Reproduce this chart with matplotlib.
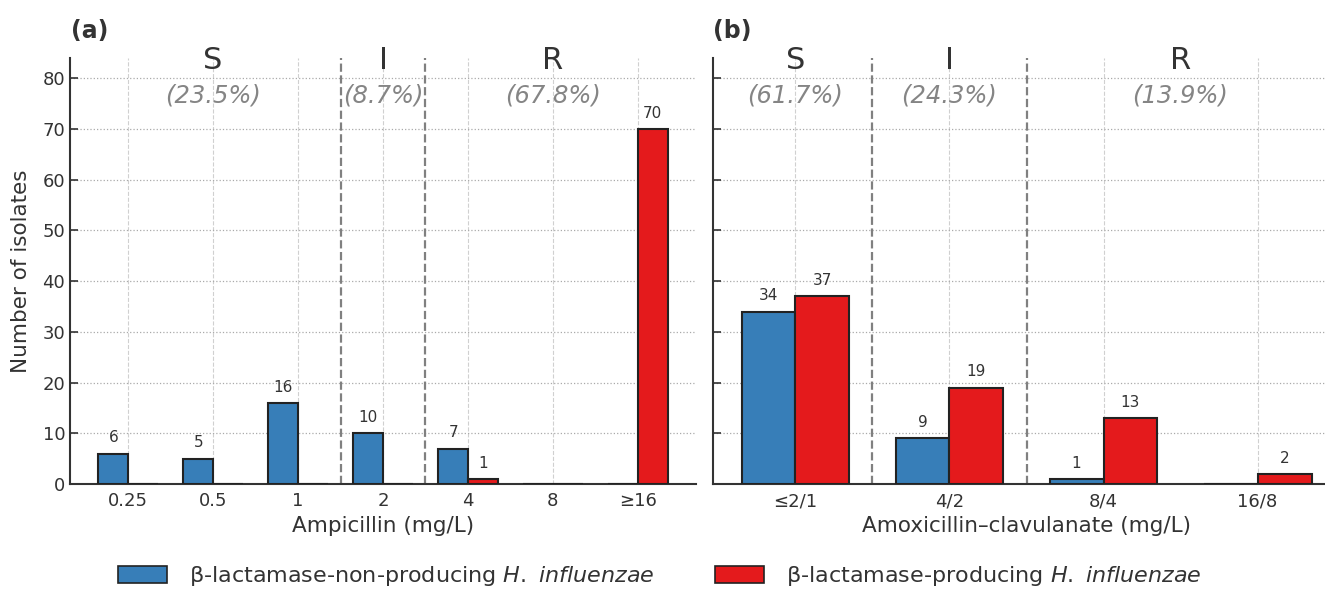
import matplotlib
matplotlib.use('Agg')
import matplotlib.pyplot as plt
import numpy as np
from matplotlib.patches import Patch

# ampicillin MIC distribution
amp_labels = ['0.25', '0.5', '1', '2', '4', '8', '≥16']
amp_non = [6, 5, 16, 10, 7, 0, 0]
amp_prod = [0, 0, 0, 0, 1, 0, 70]
amp_cats = ['S', 'I', 'R']
amp_pct = ['(23.5%)', '(8.7%)', '(67.8%)']

# amoxicillin-clavulanate MIC distribution
amc_labels = ['≤2/1', '4/2', '8/4', '16/8']
amc_non = [34, 9, 1, 0]
amc_prod = [37, 19, 13, 2]
amc_cats = ['S', 'I', 'R']
amc_pct = ['(61.7%)', '(24.3%)', '(13.9%)']

blue = '#377eb8'
red = '#e41a1c'
dark = '#333333'
W, H = 1325, 589

plt.rcParams['font.family'] = 'DejaVu Sans'
plt.rcParams['mathtext.fontset'] = 'dejavusans'

fig = plt.figure(figsize=(W / 100, H / 100), dpi=100)
ax1 = fig.add_axes([70 / W, 105 / H, 626 / W, 426 / H])
ax2 = fig.add_axes([713 / W, 105 / H, 627 / W, 426 / H], sharey=ax1)

bw = 0.35


def panel(ax, labels, non, prod, cats, pct, cat_x, seps, xlabel):
    x = np.arange(len(labels))
    b1 = ax.bar(x - bw / 2, non, bw, color=blue, edgecolor='#222222', linewidth=1.5, zorder=3)
    b2 = ax.bar(x + bw / 2, prod, bw, color=red, edgecolor='#222222', linewidth=1.5, zorder=3)
    for bars in (b1, b2):
        for r in bars:
            h = r.get_height()
            if h > 0:
                ax.annotate(str(int(h)), (r.get_x() + r.get_width() / 2, h),
                            xytext=(0, 6), textcoords='offset points',
                            ha='center', va='bottom', fontsize=11, color=dark)
    for s in seps:
        ax.axvline(s, color='#808080', linestyle='--', linewidth=1.6, zorder=2)
    for cx, c, p in zip(cat_x, cats, pct):
        ax.text(cx, 83.6, c, ha='center', va='center', fontsize=22, color=dark)
        ax.text(cx, 76.7, p, ha='center', va='center', fontsize=17.5,
                style='italic', color='#858585')
    ax.set_xticks(x)
    ax.set_xticklabels(labels)
    ax.set_xlabel(xlabel, fontsize=15.5, color=dark, labelpad=4)
    ax.set_ylim(0, 84)
    ax.set_yticks(range(0, 81, 10))
    ax.spines['top'].set_visible(False)
    ax.spines['right'].set_visible(False)
    for sp in ('left', 'bottom'):
        ax.spines[sp].set_color(dark)
        ax.spines[sp].set_linewidth(1.5)
    ax.tick_params(direction='in', length=6, width=1.2, colors=dark,
                   labelsize=13, labelcolor=dark)
    ax.tick_params(axis='x', length=0, pad=6)
    ax.grid(axis='x', linestyle='--', color='#d0d0d0', linewidth=0.8, zorder=0)
    ax.grid(axis='y', linestyle=':', color='#aaaaaa', linewidth=0.9, zorder=0)
    ax.set_axisbelow(True)


panel(ax1, amp_labels, amp_non, amp_prod, amp_cats, amp_pct, [1, 3, 5], [2.5, 3.5],
      'Ampicillin (mg/L)')
panel(ax2, amc_labels, amc_non, amc_prod, amc_cats, amc_pct, [0, 1, 2.5], [0.5, 1.5],
      'Amoxicillin–clavulanate (mg/L)')
ax1.set_ylabel('Number of isolates', fontsize=15.5, color=dark, labelpad=8)
plt.setp(ax2.get_yticklabels(), visible=False)

fig.text(71 / W, 1 - 31 / H, '(a)', fontsize=17, fontweight='bold', color=dark, va='center')
fig.text(713 / W, 1 - 31 / H, '(b)', fontsize=17, fontweight='bold', color=dark, va='center')

handles = [Patch(facecolor=blue, edgecolor='#222222', linewidth=1.2),
           Patch(facecolor=red, edgecolor='#222222', linewidth=1.2)]
names = [r'β-lactamase-non-producing $\it{H.}$ $\it{influenzae}$',
         r'β-lactamase-producing $\it{H.}$ $\it{influenzae}$']
fig.legend(handles, names, loc='center', bbox_to_anchor=(0.498, 1 - 576 / H), ncol=2,
           frameon=False, fontsize=16, handlelength=2.2, handleheight=0.8,
           handletextpad=1.0, columnspacing=2.7, labelcolor=dark)

fig.savefig('out.png', dpi=100)
